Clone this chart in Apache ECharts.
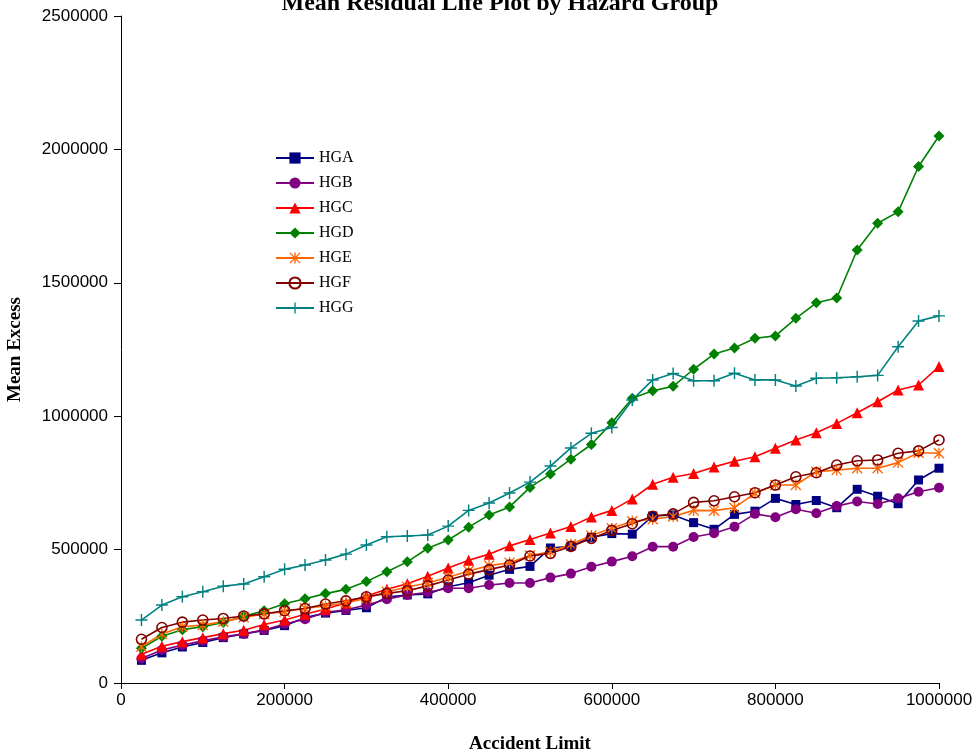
<!DOCTYPE html>
<html>
<head>
<meta charset="utf-8">
<title>Mean Residual Life Plot by Hazard Group</title>
<script src="https://cdn.jsdelivr.net/npm/echarts@6/dist/echarts.min.js"></script>
<style>
  html, body { margin: 0; padding: 0; background: #ffffff; }
  #chart { width: 977px; height: 754px; }
</style>
</head>
<body>
<div id="chart"></div>
<script>
// Accident limits (x) and mean excess per hazard group (y)
const accidentLimits = [
  25000, 50000, 75000, 100000, 125000, 150000, 175000, 200000, 225000, 250000,
  275000, 300000, 325000, 350000, 375000, 400000, 425000, 450000, 475000, 500000,
  525000, 550000, 575000, 600000, 625000, 650000, 675000, 700000, 725000, 750000,
  775000, 800000, 825000, 850000, 875000, 900000, 925000, 950000, 975000, 1000000
];

const hga = [
  85000, 113000, 135000, 152000, 170000, 184000, 197000, 215000, 245000, 262000,
  272000, 282000, 322000, 330000, 334000, 361000, 376000, 404000, 426000, 437000,
  506000, 512000, 546000, 560000, 558000, 626000, 630000, 601000, 576000, 632000,
  644000, 692000, 669000, 684000, 657000, 726000, 700000, 672000, 761000, 805000
];

const hgb = [
  92000, 124000, 142000, 158000, 173000, 184000, 199000, 221000, 239000, 265000,
  274000, 292000, 314000, 330000, 340000, 355000, 355000, 367000, 375000, 375000,
  395000, 410000, 436000, 455000, 475000, 511000, 511000, 547000, 561000, 586000,
  634000, 621000, 651000, 636000, 663000, 680000, 671000, 692000, 717000, 732000
];

const hgc = [
  108000, 138000, 155000, 170000, 185000, 198000, 219000, 236000, 258000, 277000,
  300000, 326000, 351000, 372000, 400000, 431000, 460000, 483000, 514000, 538000,
  562000, 587000, 622000, 647000, 690000, 745000, 771000, 785000, 810000, 831000,
  848000, 880000, 911000, 938000, 973000, 1013000, 1054000, 1098000, 1117000, 1186000
];

const hgd = [
  130000, 175000, 200000, 211000, 227000, 250000, 271000, 297000, 316000, 335000,
  351000, 380000, 417000, 454000, 505000, 536000, 584000, 630000, 660000, 733000,
  783000, 839000, 894000, 975000, 1067000, 1095000, 1112000, 1176000, 1233000, 1256000,
  1292000, 1301000, 1367000, 1425000, 1443000, 1623000, 1723000, 1766000, 1936000, 2050000
];

const hge = [
  136000, 184000, 211000, 217000, 230000, 246000, 259000, 267000, 280000, 289000,
  300000, 318000, 342000, 360000, 375000, 396000, 420000, 440000, 451000, 478000,
  492000, 520000, 553000, 580000, 606000, 614000, 624000, 647000, 646000, 657000,
  711000, 742000, 742000, 792000, 798000, 805000, 805000, 826000, 863000, 861000
];

const hgf = [
  164000, 208000, 228000, 236000, 242000, 251000, 259000, 271000, 279000, 296000,
  308000, 323000, 336000, 346000, 364000, 386000, 408000, 425000, 442000, 476000,
  486000, 512000, 542000, 572000, 597000, 625000, 634000, 677000, 683000, 698000,
  713000, 742000, 773000, 788000, 817000, 833000, 836000, 861000, 870000, 911000
];

const hgg = [
  236000, 292000, 323000, 342000, 363000, 371000, 398000, 426000, 442000, 461000,
  483000, 517000, 548000, 551000, 555000, 588000, 647000, 675000, 712000, 753000,
  813000, 881000, 936000, 958000, 1061000, 1136000, 1160000, 1133000, 1133000, 1161000,
  1136000, 1136000, 1113000, 1142000, 1144000, 1148000, 1153000, 1260000, 1357000, 1376000
];

// Marker shapes drawn as filled thin bars
const plusPath = 'path://M4.4,0H5.6V4.4H10V5.6H5.6V10H4.4V5.6H0V4.4H4.4Z';
const starPath = 'path://M4.4,0H5.6V10H4.4Z M0,0.85L0.85,0L10,9.15L9.15,10Z M9.15,0L10,0.85L0.85,10L0,9.15Z';

const pairs = ys => accidentLimits.map((x, i) => [x, ys[i]]);
const plainNumber = v => String(v);

function makeSeries(name, ys, color, symbol, size, extra) {
  const s = {
    name: name,
    type: 'line',
    data: pairs(ys),
    symbol: symbol,
    symbolSize: size,
    showAllSymbol: true,
    lineStyle: { color: color, width: 1.6 },
    itemStyle: { color: color, borderColor: color, borderWidth: 0 },
    emphasis: { disabled: true }
  };
  return Object.assign(s, extra || {});
}

const series = [
  makeSeries('HGA', hga, '#000080', 'rect', 9),
  makeSeries('HGB', hgb, '#800080', 'circle', 10),
  makeSeries('HGC', hgc, '#FF0000', 'triangle', 11),
  makeSeries('HGD', hgd, '#008000', 'diamond', 11),
  makeSeries('HGE', hge, '#FF6600', starPath, 11),
  makeSeries('HGF', hgf, '#800000', 'circle', 10, {
    itemStyle: { color: 'rgba(255,255,255,0)', borderColor: '#800000', borderWidth: 1.6 }
  }),
  makeSeries('HGG', hgg, '#008080', plusPath, 12)
];

const chart = echarts.init(document.getElementById('chart'), null, { renderer: 'canvas' });

chart.setOption({
  animation: false,
  backgroundColor: '#ffffff',
  title: {
    text: 'Mean Residual Life Plot by Hazard Group',
    left: 500,
    textAlign: 'center',
    top: -8,
    padding: 0,
    textStyle: {
      fontFamily: '"Liberation Serif", "Times New Roman", serif',
      fontWeight: 'bold',
      fontSize: 24,
      color: '#000000'
    }
  },
  legend: {
    orient: 'vertical',
    left: 275,
    top: 150,
    padding: 0,
    itemWidth: 38,
    itemHeight: 14,
    itemGap: 9,
    data: ['HGA', 'HGB', 'HGC', 'HGD', 'HGE', 'HGF', 'HGG'],
    textStyle: {
      fontFamily: '"Liberation Serif", "Times New Roman", serif',
      fontSize: 16,
      lineHeight: 16,
      color: '#000000'
    },
    selectedMode: false
  },
  grid: {
    left: 121,
    right: 38,
    top: 16,
    bottom: 71,
    containLabel: false,
    outerBoundsMode: 'none'
  },
  xAxis: {
    type: 'value',
    min: 0,
    max: 1000000,
    interval: 200000,
    name: 'Accident Limit',
    nameLocation: 'middle',
    nameGap: 52,
    nameTextStyle: {
      fontFamily: '"Liberation Serif", "Times New Roman", serif',
      fontWeight: 'bold',
      fontSize: 19,
      color: '#000000'
    },
    axisLine: { show: true, onZero: false, lineStyle: { color: '#000000', width: 1 } },
    axisTick: { show: true, inside: false, length: 6, lineStyle: { color: '#000000' } },
    axisLabel: {
      margin: 9,
      formatter: plainNumber,
      fontFamily: '"Liberation Sans", Arial, sans-serif',
      fontSize: 17,
      color: '#000000'
    },
    splitLine: { show: false }
  },
  yAxis: {
    type: 'value',
    min: 0,
    max: 2500000,
    interval: 500000,
    name: 'Mean Excess',
    nameLocation: 'middle',
    nameRotate: 90,
    nameGap: 96,
    nameTextStyle: {
      fontFamily: '"Liberation Serif", "Times New Roman", serif',
      fontWeight: 'bold',
      fontSize: 19,
      color: '#000000'
    },
    axisLine: { show: true, lineStyle: { color: '#000000', width: 1 } },
    axisTick: { show: true, inside: false, length: 7, lineStyle: { color: '#000000' } },
    axisLabel: {
      margin: 13,
      formatter: plainNumber,
      fontFamily: '"Liberation Sans", Arial, sans-serif',
      fontSize: 17,
      color: '#000000'
    },
    splitLine: { show: false }
  },
  series: series
});
</script>
</body>
</html>
